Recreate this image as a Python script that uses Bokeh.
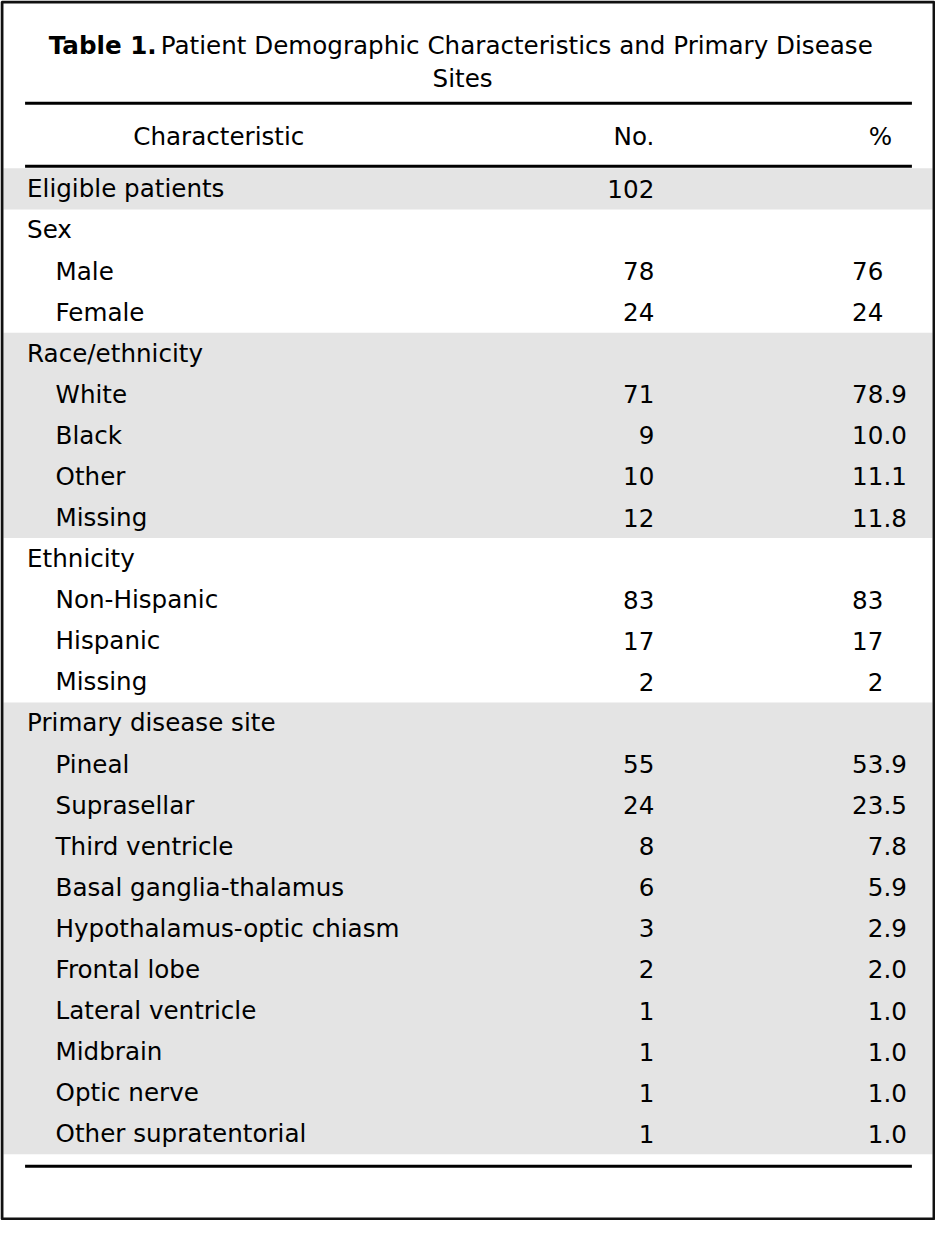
from bokeh.plotting import figure
from bokeh.models import ColumnDataSource, Range1d
from bokeh.core.properties import value
from bokeh.embed import file_html
from bokeh.resources import INLINE

# ---- data ----
title_bold = "Table 1."
title_rest = "Patient Demographic Characteristics and Primary Disease"
title_line2 = "Sites"
col_headers = ["Characteristic", "No.", "%"]

labels = ["Eligible patients", "Sex", "Male", "Female",
          "Race/ethnicity", "White", "Black", "Other", "Missing",
          "Ethnicity", "Non-Hispanic", "Hispanic", "Missing",
          "Primary disease site", "Pineal", "Suprasellar", "Third ventricle",
          "Basal ganglia-thalamus", "Hypothalamus-optic chiasm", "Frontal lobe",
          "Lateral ventricle", "Midbrain", "Optic nerve", "Other supratentorial"]
indent = [0, 0, 1, 1,
          0, 1, 1, 1, 1,
          0, 1, 1, 1,
          0, 1, 1, 1, 1, 1, 1, 1, 1, 1, 1]
counts = ["102", "", "78", "24",
          "", "71", "9", "10", "12",
          "", "83", "17", "2",
          "", "55", "24", "8", "6", "3", "2", "1", "1", "1", "1"]
pcts = ["", "", "76", "24",
        "", "78.9", "10.0", "11.1", "11.8",
        "", "83", "17", "2",
        "", "53.9", "23.5", "7.8", "5.9", "2.9", "2.0", "1.0", "1.0", "1.0", "1.0"]
shaded = [1, 0, 0, 0,
          1, 1, 1, 1, 1,
          0, 0, 0, 0,
          1, 1, 1, 1, 1, 1, 1, 1, 1, 1, 1]

# ---- layout (reference pixel space) ----
W, H = 951, 1236
FW, FH = 935, 1220
row_top = 170.0
row_h = 41.625
FONT = value("DejaVu Sans")
FS = "24.6px"
x_lvl = [27, 56]
x_no = 665
x_dec = 898

p = figure(width=FW, height=FH, output_backend="svg", toolbar_location=None,
           x_range=Range1d(0, W), y_range=Range1d(H, 0), min_border=0)
p.axis.visible = False
p.grid.visible = False
p.outline_line_color = None
p.background_fill_color = "white"
p.border_fill_color = "white"

# shaded bands (one per contiguous run)
bl, br, bt, bb = [], [], [], []
i = 0
n = len(labels)
while i < n:
    if shaded[i]:
        j = i
        while j < n and shaded[j]:
            j += 1
        bt.append(row_top + i * row_h)
        bb.append(row_top + j * row_h)
        bl.append(3)
        br.append(948)
        i = j
    else:
        i += 1
p.quad(left=bl, right=br, top=bt, bottom=bb, fill_color="#e4e4e4", line_color=None)

# rules
p.segment(x0=[25, 25, 25], x1=[927, 927, 927], y0=[104, 168, 1181], y1=[104, 168, 1181],
          line_color="black", line_width=3)

# outer frame
p.quad(left=[1.5], right=[W - 1.5], top=[1.5], bottom=[H - 1.5],
       fill_color=None, line_color="#111111", line_width=3)

# title
p.text(x=[49], y=[46], text=[title_bold], text_font=FONT, text_font_size=FS,
       text_font_style="bold", text_align="left", text_baseline="middle", text_color="black")
p.text(x=[163], y=[46], text=[title_rest], text_font=FONT, text_font_size=FS,
       text_align="left", text_baseline="middle", text_color="black")
p.text(x=[470], y=[79], text=[title_line2], text_font=FONT, text_font_size=FS,
       text_align="center", text_baseline="middle", text_color="black")

# column headers
p.text(x=[222], y=[138], text=[col_headers[0]], text_font=FONT, text_font_size=FS,
       text_align="center", text_baseline="middle", text_color="black")
p.text(x=[x_no], y=[138], text=[col_headers[1]], text_font=FONT, text_font_size=FS,
       text_align="right", text_baseline="middle", text_color="black")
p.text(x=[907], y=[138], text=[col_headers[2]], text_font=FONT, text_font_size=FS,
       text_align="right", text_baseline="middle", text_color="black")

# rows
ys = [row_top + (k + 0.5) * row_h for k in range(n)]
pint = [s.split(".")[0] for s in pcts]
pfrac = [("." + s.split(".")[1]) if "." in s else "" for s in pcts]
src = ColumnDataSource(dict(
    x=[x_lvl[lv] for lv in indent], y=ys, label=labels,
    xn=[x_no] * n, cnt=counts,
    xd=[x_dec] * n, pint=pint, pfrac=pfrac,
))
common = dict(text_font=FONT, text_font_size=FS, text_baseline="middle", text_color="black")
p.text(x="x", y="y", text="label", source=src, text_align="left", **common)
p.text(x="xn", y="y", text="cnt", source=src, text_align="right", **common)
p.text(x="xd", y="y", text="pint", source=src, text_align="right", **common)
p.text(x="xd", y="y", text="pfrac", source=src, text_align="left", **common)

open("out.html", "w").write(file_html(p, INLINE))
